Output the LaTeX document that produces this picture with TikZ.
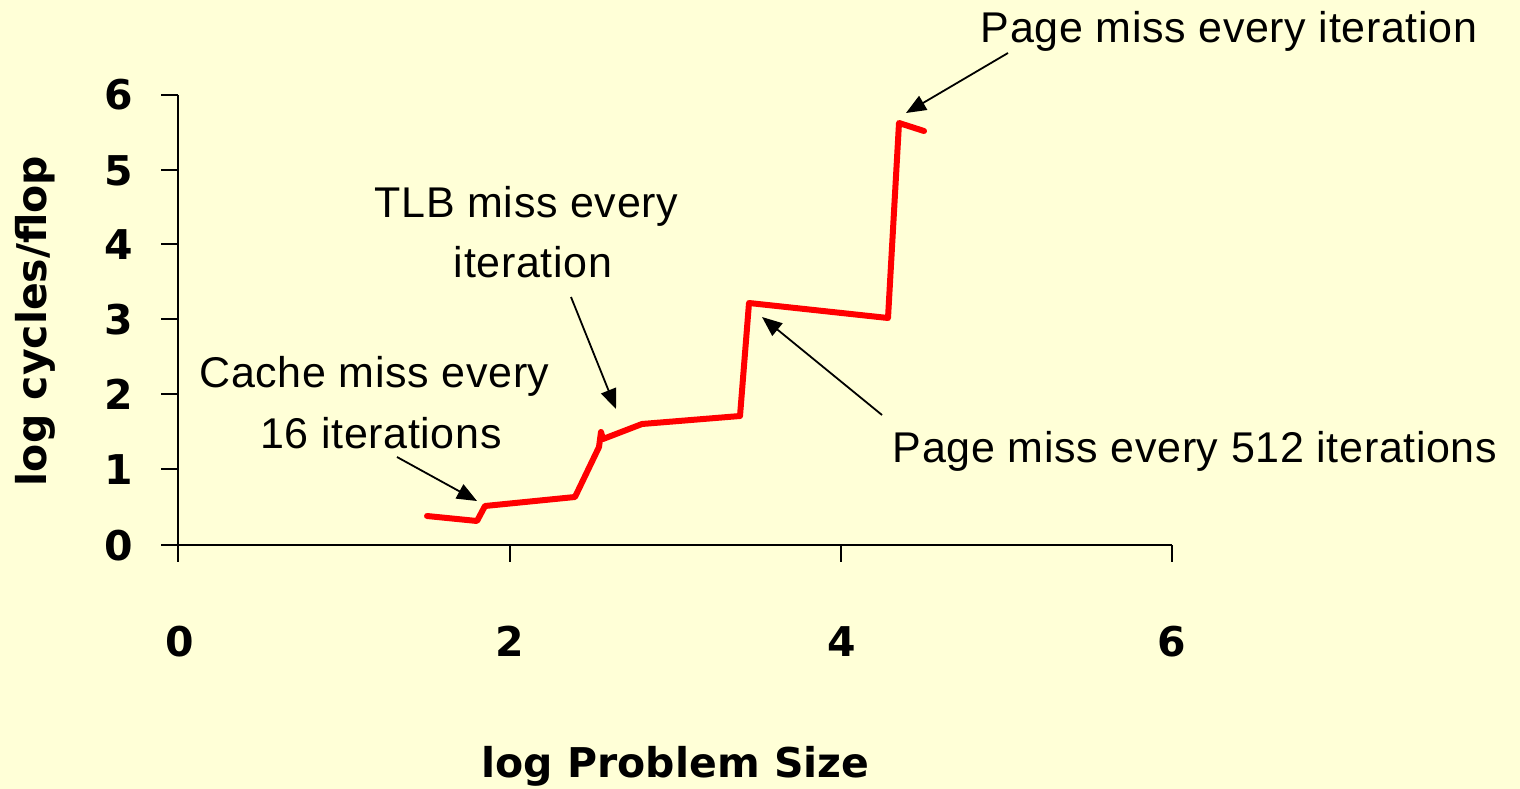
\documentclass[tikz,border=0pt]{standalone}
\usepackage{fontspec}
\setmainfont{Liberation Sans}[LetterSpace=1.5]
\newfontfamily\labfont{DejaVu Sans}
\usetikzlibrary{arrows.meta}
\definecolor{bgyellow}{RGB}{255,255,215}
\definecolor{curvered}{RGB}{255,0,0}
\tikzset{
  axisline/.style={line width=2pt, black},
  ticklab/.style={font=\labfont\bfseries\fontsize{41}{48}\selectfont, inner sep=0pt},
  annot/.style={font=\fontsize{43}{60}\selectfont, inner sep=0pt, anchor=base},
  pointer/.style={line width=1.8pt, -{Triangle[length=20pt,width=16pt]}},
  curve/.style={line width=6pt, curvered, line join=round, line cap=round}
}
\begin{document}
\begin{tikzpicture}[x=1pt,y=-1pt]
\useasboundingbox (0,0) rectangle (1520,789);
\fill[bgyellow] (0,0) rectangle (1520,789);
% axes
\draw[axisline] (178,95) -- (178,562);
\draw[axisline] (161,545) -- (1172,545);
\foreach \yy in {95,170,244,319,394,469}
  \draw[axisline] (161,\yy) -- (178,\yy);
\foreach \xx in {510,841,1172}
  \draw[axisline] (\xx,545) -- (\xx,562);
% y tick labels
\node[ticklab, anchor=base east] (y0) at (133,560) {0};
\node[ticklab, anchor=base east] (y1) at (133,484) {1};
\node[ticklab, anchor=base east] (y2) at (133,409) {2};
\node[ticklab, anchor=base east] (y3) at (133,334) {3};
\node[ticklab, anchor=base east] (y4) at (133,259) {4};
\node[ticklab, anchor=base east] (y5) at (133,185) {5};
\node[ticklab, anchor=base east] (y6) at (133,110) {6};
% x tick labels
\node[ticklab, anchor=base] (x0) at (180,656) {0};
\node[ticklab, anchor=base] (x2) at (510,656) {2};
\node[ticklab, anchor=base] (x4) at (842,656) {4};
\node[ticklab, anchor=base] (x6) at (1172,656) {6};
% axis titles
\node[ticklab, anchor=base] (xtitle) at (675.5,777) {log Problem Size};
\node[ticklab, anchor=base, rotate=90] (ytitle) at (46,321) {log cycles/flop};
% data curve
\draw[curve] (427,516) -- (477,521) -- (485,506) -- (575,497) -- (599,447)
  -- (601,432) -- (603,439) -- (642,424) -- (740,416) -- (749,303)
  -- (888,318) -- (899,123) -- (924,131);
% annotations
\node[annot] (tlbA) at (526.5,217) {TLB miss every};
\node[annot] (tlbB) at (533,277) {iteration};
\node[annot] (cacheA) at (374.5,387) {Cache miss every};
\node[annot] (cacheB) at (381,448) {16 iterations};
\node[annot] (pageall) at (1229,43) {Page miss every iteration};
\node[annot] (page512) at (1195,462) {Page miss every 512 iterations};
% arrow ends
\coordinate (cacheTail) at (397,457);
\coordinate (cacheTip) at (477,501);
\coordinate (tlbTail) at (571,297);
\coordinate (tlbTip) at (616,409);
\coordinate (p512Tail) at (882,415);
\coordinate (p512Tip) at (762,317);
\coordinate (pallTail) at (1008,53);
\coordinate (pallTip) at (906,113);
\draw[pointer] (cacheTail) -- (cacheTip);
\draw[pointer] (tlbTail) -- (tlbTip);
\draw[pointer] (p512Tail) -- (p512Tip);
\draw[pointer] (pallTail) -- (pallTip);
\end{tikzpicture}
\end{document}
